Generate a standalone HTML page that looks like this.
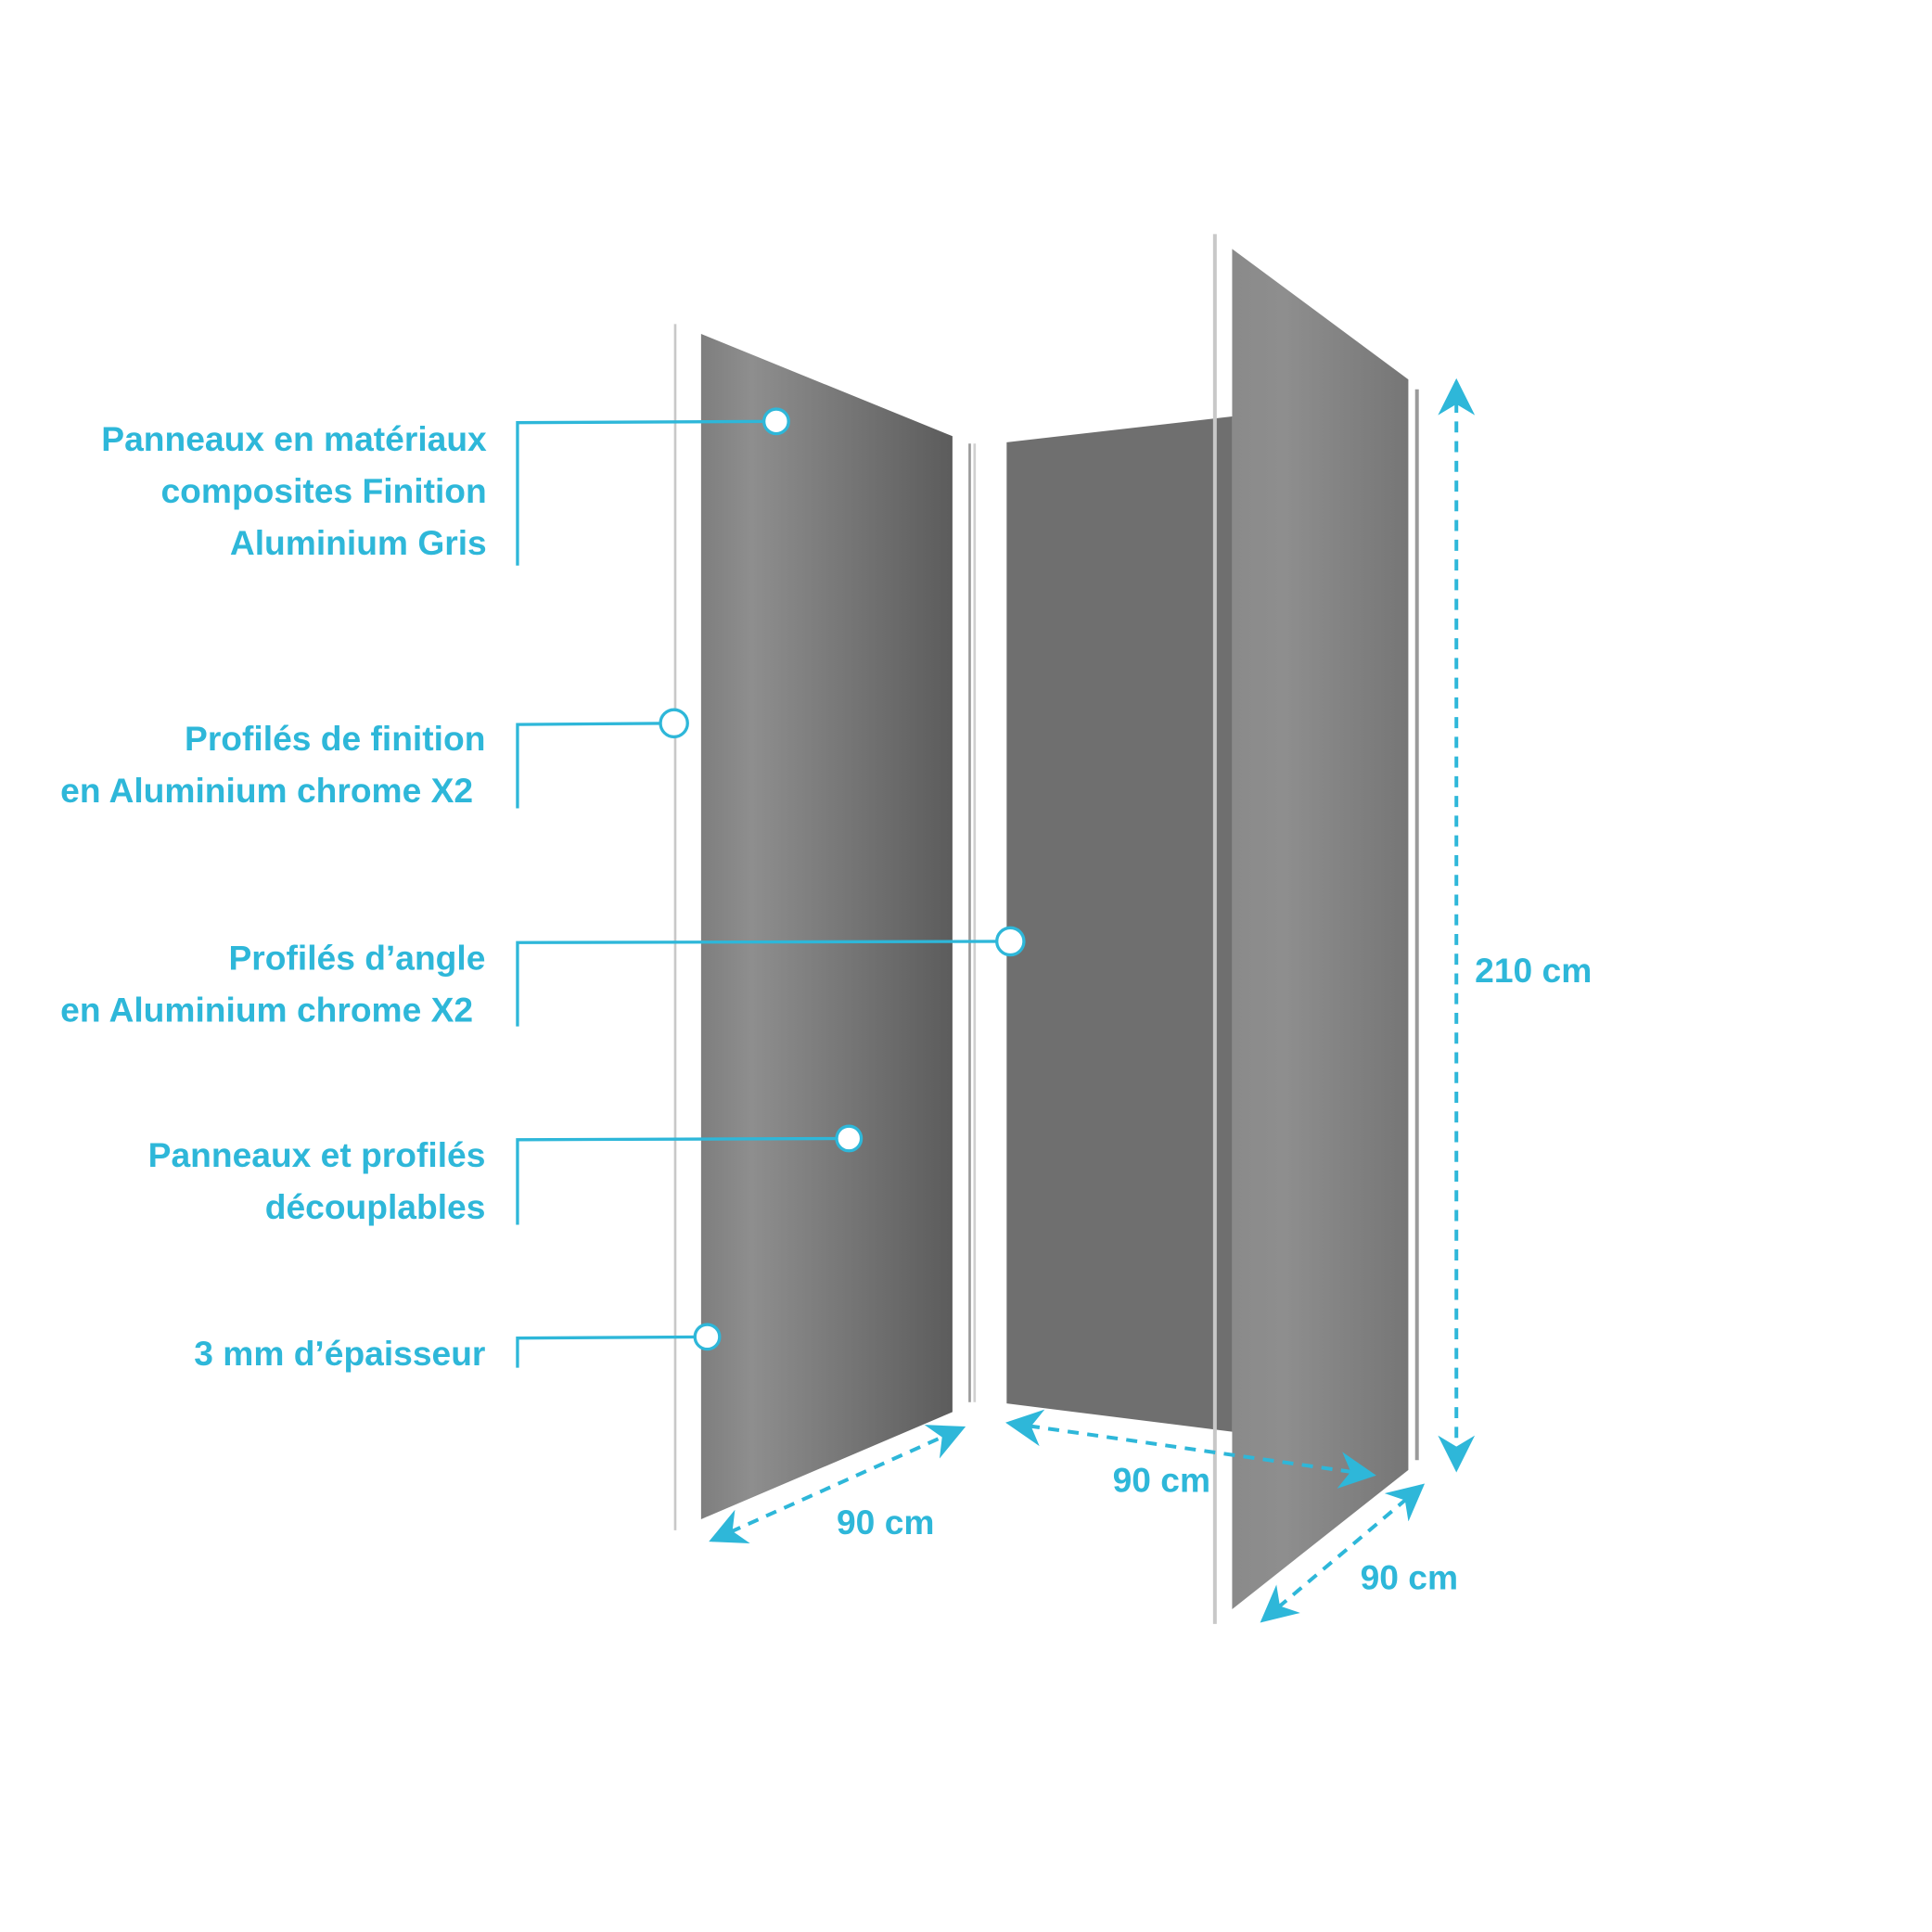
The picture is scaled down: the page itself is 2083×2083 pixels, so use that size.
<!DOCTYPE html>
<html><head><style>
html,body{margin:0;padding:0;background:#fff;}
svg{display:block}
text{font-family:"Liberation Sans Narrow","Liberation Sans",sans-serif;fill:#2eb7d9;font-size:28px;font-weight:bold;}
</style></head><body>
<svg width="2083" height="2083" viewBox="0 0 1568 1568" xmlns="http://www.w3.org/2000/svg">
<defs>
<linearGradient id="gl" x1="0" y1="0" x2="1" y2="0"><stop offset="0" stop-color="#7e7e7e"/><stop offset="0.2" stop-color="#8e8e8e"/><stop offset="1" stop-color="#5c5c5c"/></linearGradient>
<linearGradient id="gr" x1="0" y1="0" x2="1" y2="0"><stop offset="0" stop-color="#8a8a8a"/><stop offset="0.3" stop-color="#8e8e8e"/><stop offset="1" stop-color="#767676"/></linearGradient>
<marker id="ah" viewBox="0 0 10 10" refX="9" refY="5" markerWidth="9" markerHeight="9" orient="auto-start-reverse" markerUnits="userSpaceOnUse"><path d="M0,0 L10,5 L0,10 L3,5 z" fill="#2eb7d9"/></marker>
<marker id="ah2" viewBox="0 0 10 10" refX="9" refY="5" markerWidth="30" markerHeight="30" orient="auto-start-reverse" markerUnits="userSpaceOnUse"><path d="M0,0 L10,5 L0,10 L3,5 z" fill="#2eb7d9"/></marker>
</defs>
<!-- panels -->
<line x1="548" y1="263" x2="548" y2="1242" stroke="#c8c8c8" stroke-width="2"/>
<polygon points="569,271 773,354 773,1146 569,1233" fill="url(#gl)"/>
<line x1="787" y1="360" x2="787" y2="1138" stroke="#9a9a9a" stroke-width="2"/>
<line x1="791" y1="360" x2="791" y2="1138" stroke="#d0d0d0" stroke-width="2"/>
<polygon points="817,359 1000,338 1000,1162 817,1139" fill="#6f6f6f"/>
<line x1="986" y1="190" x2="986" y2="1318" stroke="#c8c8c8" stroke-width="3"/>
<polygon points="1000,202 1143,308 1143,1193 1000,1306" fill="url(#gr)"/>
<line x1="1150" y1="316" x2="1150" y2="1185" stroke="#9a9a9a" stroke-width="3"/>
<!-- dimension arrows -->
<g stroke="#2eb7d9" stroke-width="3" stroke-dasharray="9,7" fill="none">
<line x1="1182" y1="310" x2="1182" y2="1192" marker-start="url(#ah2)" marker-end="url(#ah2)"/>
<line x1="578" y1="1250" x2="781" y2="1159" marker-start="url(#ah2)" marker-end="url(#ah2)"/>
<line x1="819" y1="1155" x2="1114" y2="1197" marker-start="url(#ah2)" marker-end="url(#ah2)"/>
<line x1="1025" y1="1315" x2="1154" y2="1206" marker-start="url(#ah2)" marker-end="url(#ah2)"/>
</g>
<text x="1197" y="797">210 cm</text>
<text x="679" y="1245">90 cm</text>
<text x="903" y="1211">90 cm</text>
<text x="1104" y="1290">90 cm</text>
<!-- callouts -->
<g stroke="#2eb7d9" stroke-width="2.5" fill="none">
<polyline points="420,459 420,343 630,342"/>
<polyline points="420,656 420,588 547,587"/>
<polyline points="420,833 420,765 820,764"/>
<polyline points="420,994 420,925 689,924"/>
<polyline points="420,1110 420,1086 574,1085"/>
</g>
<g stroke="#2eb7d9" stroke-width="2.5" fill="#fff">
<circle cx="630" cy="342" r="10"/>
<circle cx="547" cy="587" r="11"/>
<circle cx="820" cy="764" r="11"/>
<circle cx="689" cy="924" r="10"/>
<circle cx="574" cy="1085" r="10"/>
</g>
<g text-anchor="end">
<text x="395" y="366">Panneaux en matériaux</text>
<text x="395" y="408">composites Finition</text>
<text x="395" y="450">Aluminium Gris</text>
<text x="394" y="609">Profilés de finition</text>
<text x="384" y="651">en Aluminium chrome X2</text>
<text x="394" y="787">Profilés d’angle</text>
<text x="384" y="829">en Aluminium chrome X2</text>
<text x="394" y="947">Panneaux et profilés</text>
<text x="394" y="989">découplables</text>
<text x="394" y="1108">3 mm d’épaisseur</text>
</g>
</svg>
</body></html>
